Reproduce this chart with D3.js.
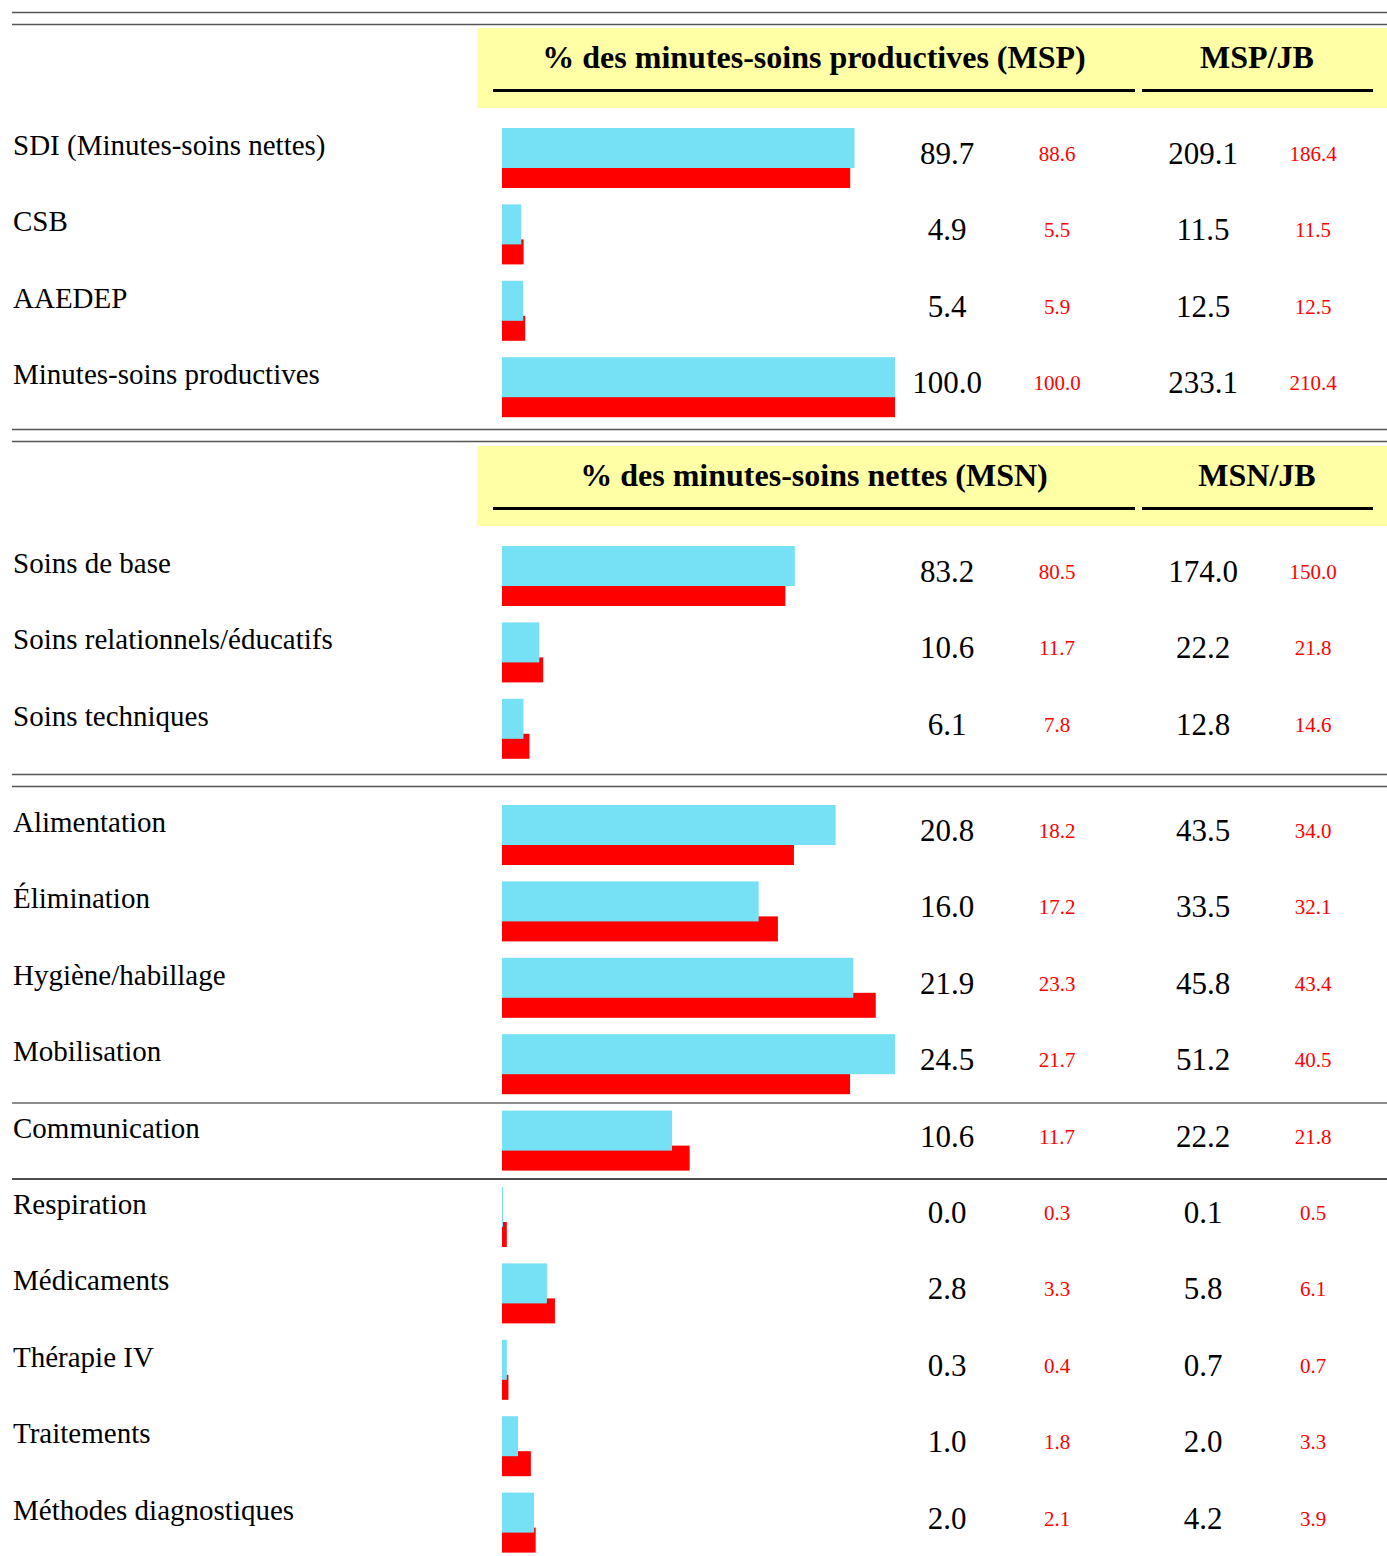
<!DOCTYPE html>
<html>
<head>
<meta charset="utf-8">
<script src="https://cdn.jsdelivr.net/npm/d3@7"></script>
<style>
  body { margin: 0; background: white; }
</style>
</head>
<body>
<div id="chart"></div>
<script>
let w = 1387;
let h = 1556;

// section 1 : % des minutes-soins productives
let sec1Labels = ["SDI (Minutes-soins nettes)", "CSB", "AAEDEP", "Minutes-soins productives"];
let sec1Pct = [89.7, 4.9, 5.4, 100.0];
let sec1PctRef = [88.6, 5.5, 5.9, 100.0];
let sec1JB = [209.1, 11.5, 12.5, 233.1];
let sec1JBRef = [186.4, 11.5, 12.5, 210.4];

// section 2 : % des minutes-soins nettes
let sec2Labels = ["Soins de base", "Soins relationnels/éducatifs", "Soins techniques"];
let sec2Pct = [83.2, 10.6, 6.1];
let sec2PctRef = [80.5, 11.7, 7.8];
let sec2JB = [174.0, 22.2, 12.8];
let sec2JBRef = [150.0, 21.8, 14.6];

// section 3 : details
let sec3Labels = ["Alimentation", "Élimination", "Hygiène/habillage", "Mobilisation", "Communication",
  "Respiration", "Médicaments", "Thérapie IV", "Traitements", "Méthodes diagnostiques"];
let sec3Pct = [20.8, 16.0, 21.9, 24.5, 10.6, 0.0, 2.8, 0.3, 1.0, 2.0];
let sec3PctRef = [18.2, 17.2, 23.3, 21.7, 11.7, 0.3, 3.3, 0.4, 1.8, 2.1];
let sec3JB = [43.5, 33.5, 45.8, 51.2, 22.2, 0.1, 5.8, 0.7, 2.0, 4.2];
let sec3JBRef = [34.0, 32.1, 43.4, 40.5, 21.8, 0.5, 6.1, 0.7, 3.3, 3.9];

let headers1 = ["% des minutes-soins productives (MSP)", "MSP/JB"];
let headers2 = ["% des minutes-soins nettes (MSN)", "MSN/JB"];

let blue = "#76e0f5";
let red = "#ff0000";
let yellow = "#ffffa6";
let serif = "'Liberation Serif', 'Times New Roman', serif";

let viz = d3.select("#chart")
  .append("svg")
  .attr("width", w)
  .attr("height", h)
  .style("background-color", "white");

let barX = 502;
let step = 76.4;

function doubleLine(y){
  [y, y + 12].forEach(function(yy){
    viz.append("line")
      .attr("x1", 12).attr("x2", w)
      .attr("y1", yy).attr("y2", yy)
      .attr("stroke", "#555")
      .attr("stroke-width", 1.3);
  });
}

function header(y, titles){
  viz.append("rect")
    .attr("x", 477).attr("y", y)
    .attr("width", w - 477).attr("height", 80)
    .attr("fill", yellow);
  viz.append("rect").attr("x", 493).attr("y", y + 61).attr("width", 642).attr("height", 3).attr("fill", "black");
  viz.append("rect").attr("x", 1142).attr("y", y + 61).attr("width", 231).attr("height", 3).attr("fill", "black");
  viz.append("text")
    .attr("x", 814).attr("y", y + 40)
    .attr("text-anchor", "middle")
    .style("font-family", serif).style("font-weight", "bold").style("font-size", "32px")
    .text(titles[0]);
  viz.append("text")
    .attr("x", 1257).attr("y", y + 40)
    .attr("text-anchor", "middle")
    .style("font-family", serif).style("font-weight", "bold").style("font-size", "32px")
    .text(titles[1]);
}

function section(top, labels, pct, pctRef, jb, jbRef, xScale){
  let yScale = d3.scaleLinear().domain([0, 1]).range([top, top + step]);
  let rows = labels.map(function(l, i){
    return {label: l, pct: pct[i], pctRef: pctRef[i], jb: jb[i], jbRef: jbRef[i], i: i};
  });
  let g = viz.append("g");
  let row = g.selectAll(".row").data(rows).enter().append("g").attr("class", "row");

  row.append("rect")
    .attr("x", barX)
    .attr("y", function(d){ return yScale(d.i) + 35; })
    .attr("width", function(d){ return Math.max(1, xScale(d.pctRef)); })
    .attr("height", 25)
    .attr("fill", red);
  row.append("rect")
    .attr("x", barX)
    .attr("y", function(d){ return yScale(d.i); })
    .attr("width", function(d){ return Math.max(1, xScale(d.pct)); })
    .attr("height", 40)
    .attr("fill", blue);

  row.append("text")
    .attr("x", 13)
    .attr("y", function(d){ return yScale(d.i) + 27; })
    .style("font-family", serif).style("font-size", "29px")
    .text(function(d){ return d.label; });

  let big = [["pct", 947], ["jb", 1203]];
  let small = [["pctRef", 1057], ["jbRef", 1313]];
  big.forEach(function(c){
    row.append("text")
      .attr("x", c[1])
      .attr("y", function(d){ return yScale(d.i) + 36; })
      .attr("text-anchor", "middle")
      .style("font-family", serif).style("font-size", "31px")
      .text(function(d){ return d3.format(".1f")(d[c[0]]); });
  });
  small.forEach(function(c){
    row.append("text")
      .attr("x", c[1])
      .attr("y", function(d){ return yScale(d.i) + 33; })
      .attr("text-anchor", "middle")
      .attr("fill", red)
      .style("font-family", serif).style("font-size", "21px")
      .text(function(d){ return d3.format(".1f")(d[c[0]]); });
  });
}

// scales
let x1 = d3.scaleLinear().domain([0, 100]).range([0, 393]);
let x2 = d3.scaleLinear().domain([0, 100]).range([0, 352]);
let x3 = d3.scaleLinear().domain([0, 24.5]).range([0, 393]);

doubleLine(12.5);
header(28, headers1);
section(128, sec1Labels, sec1Pct, sec1PctRef, sec1JB, sec1JBRef, x1);

doubleLine(429.5);
header(446, headers2);
section(546, sec2Labels, sec2Pct, sec2PctRef, sec2JB, sec2JBRef, x2);

doubleLine(774.5);
section(805, sec3Labels, sec3Pct, sec3PctRef, sec3JB, sec3JBRef, x3);

// separators inside section 3
viz.append("line")
  .attr("x1", 12).attr("x2", w).attr("y1", 1103).attr("y2", 1103)
  .attr("stroke", "#666").attr("stroke-width", 1.6);
viz.append("line")
  .attr("x1", 12).attr("x2", w).attr("y1", 1179).attr("y2", 1179)
  .attr("stroke", "#111").attr("stroke-width", 1.3);
</script>
</body>
</html>
